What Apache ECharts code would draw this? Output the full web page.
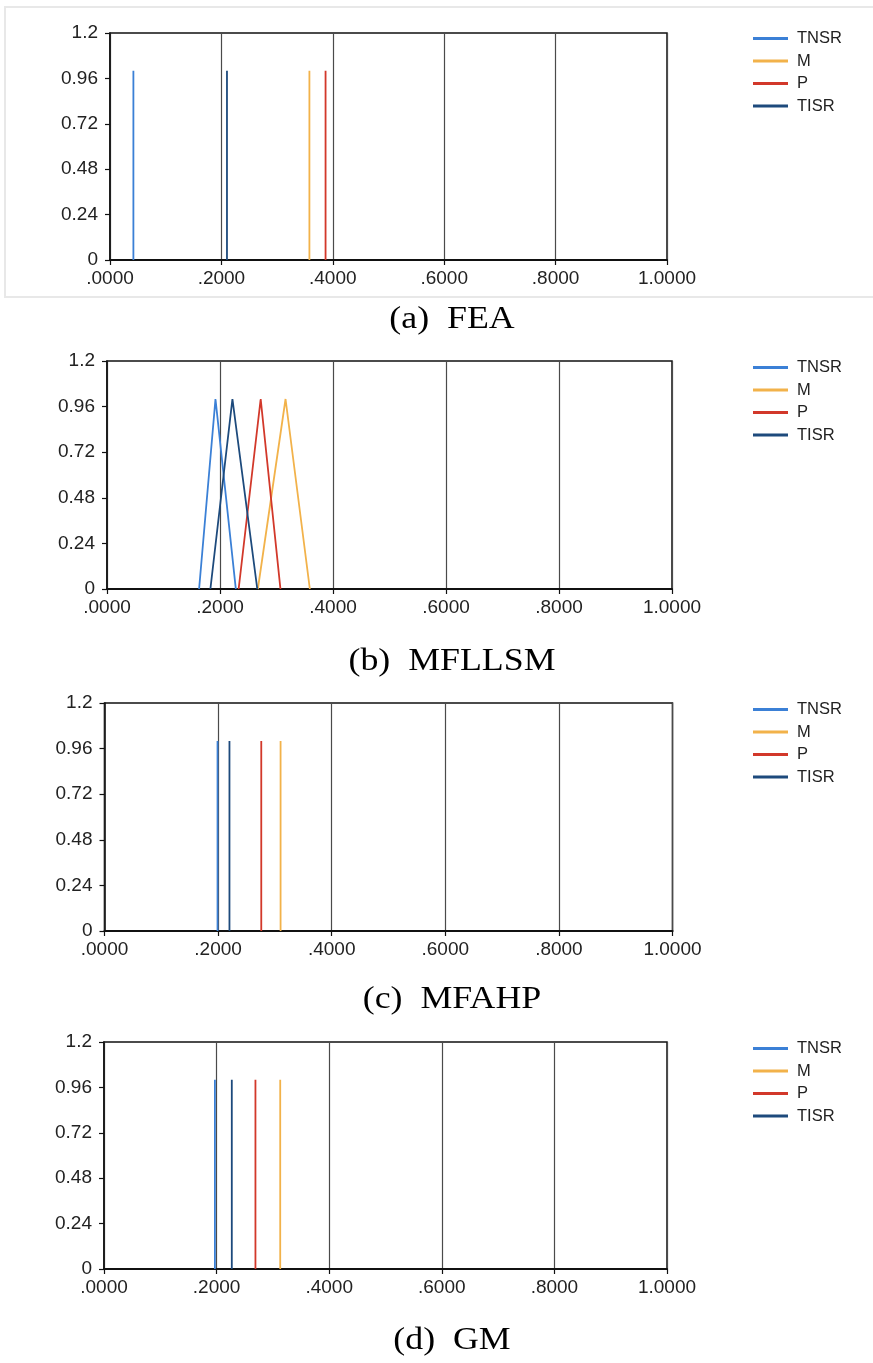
<!DOCTYPE html>
<html>
<head>
<meta charset="utf-8">
<script src="https://cdn.jsdelivr.net/npm/echarts@6/dist/echarts.min.js"></script>
<style>
html,body{margin:0;padding:0;background:#fff;}
#c{width:873px;height:1363px;}
</style>
</head>
<body>
<div id="c"></div>
<script>
// Series (criteria) names and colours
const seriesNames = ['TNSR', 'M', 'P', 'TISR'];
const seriesColors = ['#3b80d6', '#f2b24a', '#d2382a', '#1d4a7c'];

// Triangular fuzzy weights [lower, middle, upper] in order TNSR, M, P, TISR
const FEA    = [[0.042, 0.042, 0.042], [0.358, 0.358, 0.358], [0.387, 0.387, 0.387], [0.210, 0.210, 0.210]];
const MFLLSM = [[0.163, 0.192, 0.228], [0.267, 0.316, 0.359], [0.233, 0.272, 0.307], [0.183, 0.222, 0.266]];
const MFAHP  = [[0.199, 0.199, 0.199], [0.310, 0.310, 0.310], [0.276, 0.276, 0.276], [0.220, 0.220, 0.220]];
const GM     = [[0.197, 0.197, 0.197], [0.313, 0.313, 0.313], [0.269, 0.269, 0.269], [0.227, 0.227, 0.227]];

// Membership levels of the triangle vertices
const membership = [0, 1, 0];

// Panel captions
const captions = ['(a)  FEA', '(b)  MFLLSM', '(c)  MFAHP', '(d)  GM'];
const panelData = [FEA, MFLLSM, MFAHP, GM];

// Axis settings
const xMin = 0, xMax = 1, xStep = 0.2;
const yMin = 0, yMax = 1.2, yStep = 0.24;

// Layout (positions only)
const grids = [
  {left: 110, top: 33, width: 557, height: 227},
  {left: 107, top: 361, width: 565, height: 228},
  {left: 104.5, top: 703, width: 568, height: 228},
  {left: 104, top: 1042, width: 563, height: 227}
];
const legendTops = [25, 354, 696, 1035];
const captionY = [320, 662, 1000, 1341];

const chart = echarts.init(document.getElementById('c'), null, {renderer: 'canvas'});

const labelFont = {fontFamily: 'Liberation Sans, Arial, sans-serif', fontSize: 19, color: '#222'};

const option = {
  backgroundColor: '#fff',
  animation: false,
  grid: grids.map(g => Object.assign({show: true, borderColor: '#111', borderWidth: 1.5, backgroundColor: '#fff'}, g)),
  xAxis: grids.map((g, i) => ({
    gridIndex: i, type: 'value', min: xMin, max: xMax, interval: xStep,
    axisLine: {show: true, lineStyle: {color: '#111', width: 2}},
    axisTick: {show: true, inside: false, length: 5, lineStyle: {color: '#111', width: 1.2}},
    splitLine: {show: true, lineStyle: {color: '#4a4a4a', width: 1.2}},
    axisLabel: Object.assign({margin: 9, formatter: v => v >= 1 ? '1.0000' : v.toFixed(4).replace(/^0/, '')}, labelFont)
  })),
  yAxis: grids.map((g, i) => ({
    gridIndex: i, type: 'value', min: yMin, max: yMax, interval: yStep,
    axisLine: {show: true, lineStyle: {color: '#111', width: 1.5}},
    axisTick: {show: true, inside: false, length: 5, lineStyle: {color: '#111', width: 1.2}},
    splitLine: {show: false},
    axisLabel: Object.assign({margin: 12, formatter: v => String(+v.toFixed(2))}, labelFont)
  })),
  legend: legendTops.map(t => ({
    data: seriesNames, orient: 'vertical', left: 748, top: t,
    icon: 'rect', itemWidth: 35, itemHeight: 3, itemGap: 5.5,
    selectedMode: false,
    textStyle: {fontFamily: 'Liberation Sans, Arial, sans-serif', fontSize: 16.5, color: '#222', lineHeight: 16, padding: [0, 0, 0, 4]}
  })),
  series: [],
  graphic: [
    {type: 'rect', shape: {x: 5, y: 7, width: 880, height: 290}, style: {fill: 'none', stroke: '#e8e8e8', lineWidth: 2}, z: -1}
  ]
};

panelData.forEach((panel, pi) => {
  panel.forEach((tri, si) => {
    option.series.push({
      type: 'line', name: seriesNames[si], xAxisIndex: pi, yAxisIndex: pi,
      data: tri.map((x, k) => [x, membership[k]]),
      showSymbol: false, symbol: 'none',
      lineStyle: {color: seriesColors[si], width: 1.8},
      itemStyle: {color: seriesColors[si]},
      z: 3
    });
  });
  option.graphic.push({
    type: 'text', x: 452, y: captionY[pi], scaleX: 1.12,
    style: {text: captions[pi], x: 0, y: 0, align: 'center', verticalAlign: 'middle',
      font: '32px "Liberation Serif", "Times New Roman", serif', fill: '#000'}
  });
});

chart.setOption(option);
</script>
</body>
</html>
